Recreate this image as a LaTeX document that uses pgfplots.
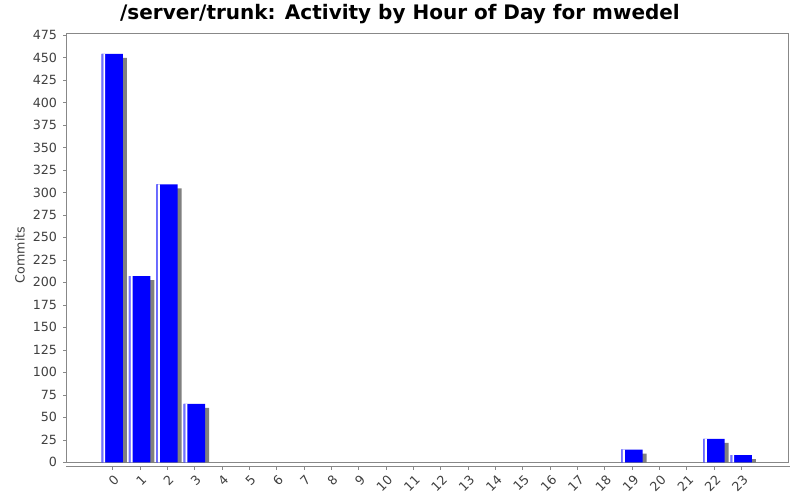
\documentclass[border=0pt]{standalone}
\usepackage{fontspec}
\setmainfont{DejaVu Sans}
\usepackage{pgfplots}
\pgfplotsset{compat=1.18}
\definecolor{barblue}{HTML}{0000FF}
\definecolor{barlight}{HTML}{7070FF}
\definecolor{shadowgray}{HTML}{808080}
\definecolor{axisgray}{HTML}{888888}
\definecolor{labelgray}{HTML}{404040}

% hour, commits
\pgfplotstableread{
hour commits
0  454
1  207
2  309
3  65
19 14
22 26
23 8
}\hourdata

\begin{document}
\begin{tikzpicture}[x=1pt,y=1pt]
\useasboundingbox (0,0) rectangle (600,375);
\node[font=\bfseries\fontsize{15}{18}\selectfont] at (300,364.5)
  {/server/trunk: Activity by Hour of Day for mwedel};
\node[rotate=90, font=\fontsize{9.5}{11}\selectfont, text=labelgray] at (15,183.75) {Commits};
\begin{axis}[
    name=ax,
    at={(49.5pt,28.3pt)}, anchor=south west,
    scale only axis,
    width=542pt, height=321.75pt,
    xmin=-1.693, xmax=24.733,
    ymin=0, ymax=476.9,
    axis line style={axisgray},
    xtick={0,...,23},
    ytick={0,25,...,475},
    tick pos=left,
    tick align=outside,
    major tick length=2.2pt,
    tick style={axisgray},
    xtick style={yshift=-3.3pt},
    ticklabel style={font=\fontsize{9.5}{11}\selectfont, text=labelgray},
    xticklabel style={xshift=3.4pt, yshift=-9pt, rotate=45, anchor=east, inner sep=0pt},
    yticklabel style={xshift=-1pt},
    /pgf/number format/assume math mode=true,
    ybar, bar width=0.78,
]
\addplot[fill=shadowgray, draw=none, bar shift=0pt, xshift=3pt, yshift=-3pt]
  table[x=hour, y=commits] {\hourdata};
\addplot[fill=barblue, draw=none, bar shift=0pt]
  table[x=hour, y=commits] {\hourdata};
\addplot[fill=barlight, draw=none, bar width=0.062, bar shift=-0.359]
  table[x=hour, y=commits] {\hourdata};
\addplot[fill=white, draw=none, bar width=0.07, bar shift=-0.293]
  table[x=hour, y=commits] {\hourdata};
\end{axis}
\draw[axisgray] ([yshift=-3.3pt]ax.south west) -- ([yshift=-3.3pt, xshift=1pt]ax.south east);
\end{tikzpicture}
\end{document}
